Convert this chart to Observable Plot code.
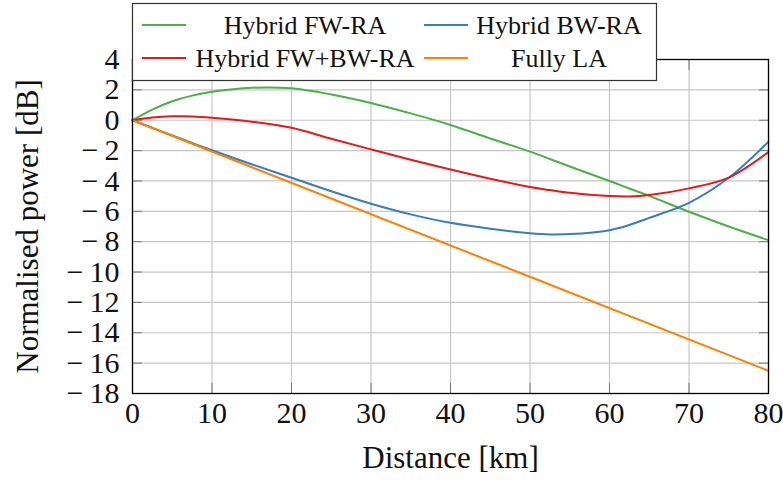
<!DOCTYPE html>
<html><head><meta charset="utf-8">
<script src="https://cdn.jsdelivr.net/npm/d3@7"></script>
<script src="https://cdn.jsdelivr.net/npm/@observablehq/plot@0.6"></script>
<style>
body{margin:0;background:#fff}
#chart svg, #chart svg text { font-family: "Liberation Serif", serif !important; }
</style>
</head><body><div id="chart"></div>
<script>
// Data
const distance = [0,2.5,5,7.5,10,15,20,25,30,35,40,45,50,52.5,55,60,62.5,65,70,75,80];
const hybridFWRA = [0,0.7,1.25,1.62,1.87,2.14,2.1,1.7,1.14,0.45,-0.31,-1.2,-2.07,-2.55,-3.05,-4.0,-4.5,-4.98,-6.03,-7.0,-7.9];
const hybridBWRA = [0,-0.5,-1.0,-1.5,-1.98,-2.9,-3.79,-4.68,-5.5,-6.2,-6.76,-7.15,-7.44,-7.52,-7.5,-7.24,-6.9,-6.43,-5.44,-3.79,-1.41];
const hybridFWBWRA = [0,0.18,0.26,0.25,0.16,-0.1,-0.5,-1.22,-1.92,-2.6,-3.24,-3.85,-4.4,-4.6,-4.78,-4.99,-5.02,-4.93,-4.49,-3.78,-2.09];
const fullyLADistance = [0,80];
const fullyLA = [0,-16.5];
const seriesNames = ["Hybrid FW-RA","Hybrid BW-RA","Hybrid FW+BW-RA","Fully LA"];
const seriesColors = ["#4daf4a","#377eb8","#e41a1c","#ff7f00"];
const xTicks = [0,10,20,30,40,50,60,70,80];
const yTicks = [4,2,0,-2,-4,-6,-8,-10,-12,-14,-16,-18];
const xLabel = "Distance [km]";
const yLabel = "Normalised power [dB]";

const rows = [];
distance.forEach((d,i) => rows.push({d, p: hybridFWRA[i], s: seriesNames[0]}));
distance.forEach((d,i) => rows.push({d, p: hybridBWRA[i], s: seriesNames[1]}));
distance.forEach((d,i) => rows.push({d, p: hybridFWBWRA[i], s: seriesNames[2]}));
fullyLADistance.forEach((d,i) => rows.push({d, p: fullyLA[i], s: seriesNames[3]}));

const fmt = v => v < 0 ? "\u2212\u2009" + Math.abs(v) : String(v);
const font = "Liberation Serif";
const tickColor = "#777";

const chart = Plot.plot({
  width: 783, height: 480,
  marginLeft: 132, marginRight: 15, marginTop: 59, marginBottom: 87,
  style: {fontFamily: font, background: "white", overflow: "visible", color: "#111"},
  x: {domain: [0, 80], axis: null},
  y: {domain: [-18, 4], axis: null},
  color: {domain: seriesNames, range: seriesColors},
  marks: [
    Plot.gridX(xTicks, {stroke: "#c6c6c6", strokeOpacity: 1, strokeWidth: 1.2}),
    Plot.gridY(yTicks, {stroke: "#c6c6c6", strokeOpacity: 1, strokeWidth: 1.2}),
    Plot.axisY(yTicks, {anchor: "left", tickSize: 10, dx: 10, stroke: tickColor, tickFormat: () => "", label: null}),
    Plot.axisY(yTicks, {anchor: "right", tickSize: 10, dx: -10, stroke: tickColor, tickFormat: () => "", label: null}),
    Plot.axisX(xTicks, {anchor: "bottom", tickSize: 10, dy: -10, stroke: tickColor, tickFormat: () => "", label: null}),
    Plot.axisX(xTicks, {anchor: "top", tickSize: 10, dy: 10, stroke: tickColor, tickFormat: () => "", label: null}),
    Plot.text(yTicks, {y: d => d, text: fmt, frameAnchor: "left", textAnchor: "end", lineAnchor: "middle", dx: -13, fontSize: 30, fontFamily: font, fill: "#111"}),
    Plot.text(xTicks, {x: d => d, text: fmt, frameAnchor: "bottom", textAnchor: "middle", lineAnchor: "top", dy: 8, fontSize: 30, fontFamily: font, fill: "#111"}),
    Plot.line(rows, {x: "d", y: "p", z: "s", stroke: "s", strokeWidth: 2, curve: "catmull-rom"}),
    Plot.frame({stroke: "black", strokeWidth: 1.3}),
    Plot.text([xLabel], {text: d => d, frameAnchor: "bottom", textAnchor: "middle", lineAnchor: "middle", dy: 65, fontSize: 31, fontFamily: font, fill: "#111"}),
    Plot.text([yLabel], {text: d => d, frameAnchor: "left", textAnchor: "middle", lineAnchor: "middle", dx: -104, rotate: -90, fontSize: 31, fontFamily: font, fill: "#111"})
  ]
});
document.getElementById("chart").appendChild(chart);

// Legend (two columns, centered labels)
const svg = d3.select(chart);
const lg = svg.append("g").attr("font-family", font).attr("font-size", 26);
lg.append("rect").attr("x", 132.5).attr("y", 3.5).attr("width", 524).attr("height", 77)
  .attr("fill", "white").attr("stroke", "#333").attr("stroke-width", 1.2);
const legendOrder = [0, 1, 2, 3];
const colLineX = [142, 424];
const colTextX = [305, 559];
const rowY = [25, 58];
legendOrder.forEach((si, k) => {
  const c = k % 2, r = Math.floor(k / 2);
  lg.append("line").attr("x1", colLineX[c]).attr("x2", colLineX[c] + 44)
    .attr("y1", rowY[r]).attr("y2", rowY[r])
    .attr("stroke", seriesColors[si]).attr("stroke-width", 2);
  lg.append("text").attr("x", colTextX[c]).attr("y", rowY[r]).attr("dy", "0.35em")
    .attr("text-anchor", "middle").attr("fill", "#111").text(seriesNames[si]);
});
</script>
</body></html>
